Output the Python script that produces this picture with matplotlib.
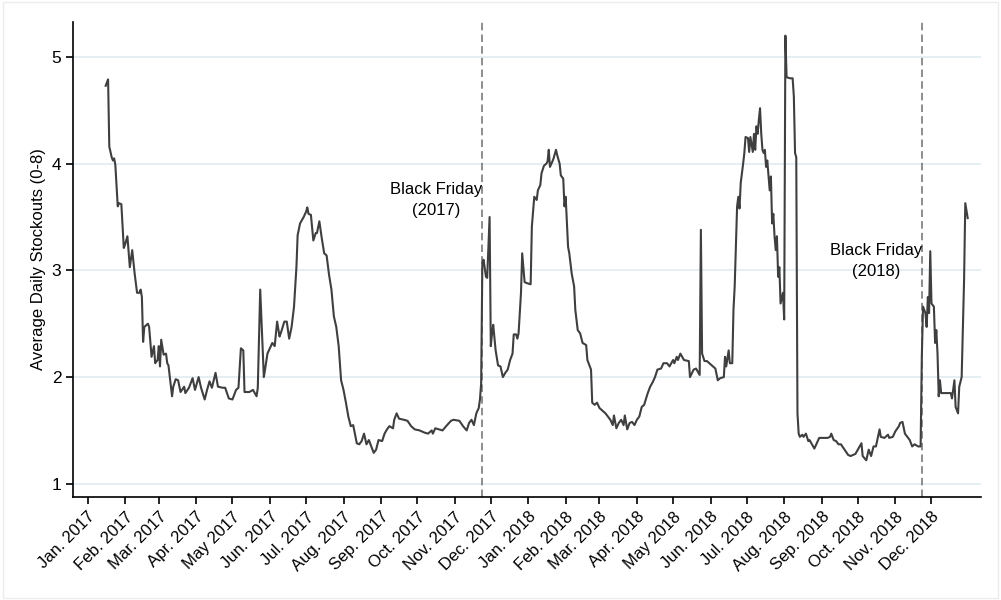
import pandas as pd
import matplotlib.pyplot as plt
import matplotlib.patches as patches

plt.rcParams['font.family'] = ['Liberation Sans', 'DejaVu Sans']

# days since 2017-01-01 and average daily stockouts
days = [15, 17, 18, 20, 21, 22, 23, 25, 26, 28, 30, 31, 33, 35, 37, 39, 41, 43, 44, 45,
        46, 47, 50, 51, 53, 55, 56, 58, 59, 60, 61, 63, 65, 66, 67, 70, 71, 73, 75, 77,
        80, 81, 84, 87, 89, 92, 94, 97, 99, 101, 103, 106, 108, 112, 114, 117, 120, 123, 125, 127,
        129, 130, 134, 137, 140, 141, 143, 146, 147, 149, 153, 155, 157, 159, 160, 163, 165, 167, 169, 171,
        173, 174, 176, 179, 181, 182, 183, 185, 187, 189, 190, 192, 194, 196, 198, 200, 202, 204, 206, 208,
        210, 212, 214, 216, 218, 220, 223, 225, 227, 229, 231, 233, 235, 237, 239, 241, 244, 246, 248, 250,
        253, 254, 256, 258, 262, 265, 268, 271, 275, 279, 282, 285, 286, 288, 291, 294, 297, 301, 303, 308,
        311, 314, 316, 318, 320, 322, 324, 325, 326, 327, 328, 330, 331, 333, 334, 335, 336, 338, 340, 342,
        344, 346, 348, 350, 352, 353, 355, 356, 357, 359, 360, 362, 364, 367, 368, 370, 372, 373, 375, 376,
        378, 380, 381, 382, 383, 385, 386, 388, 389, 391, 392, 394, 395, 396, 398, 399, 401, 403, 404, 406,
        408, 410, 413, 414, 417, 418, 420, 422, 424, 426, 429, 431, 433, 435, 436, 438, 440, 442, 444, 445,
        447, 449, 451, 453, 455, 457, 459, 461, 464, 466, 468, 470, 472, 475, 477, 480, 482, 485, 486, 488,
        489, 491, 493, 494, 498, 499, 502, 504, 507, 508, 509, 511, 513, 515, 518, 520, 522, 524, 527, 528,
        529, 531, 532, 534, 535, 536, 538, 539, 540, 541, 543, 544, 545, 547, 548, 549, 551, 552, 553, 554,
        555, 556, 557, 558, 559, 560, 561, 562, 563, 565, 566, 567, 568, 569, 570, 571, 572, 573, 574, 576,
        577, 578, 579, 582, 584, 585, 586, 587, 588, 589, 590, 592, 593, 595, 597, 598, 600, 602, 604, 606,
        609, 611, 613, 615, 616, 618, 620, 622, 624, 627, 630, 632, 636, 638, 641, 642, 645, 647, 649, 651,
        653, 656, 657, 660, 663, 664, 667, 669, 672, 673, 675, 677, 679, 681, 683, 685, 688, 690, 691, 692,
        694, 695, 696, 697, 698, 699, 701, 702, 703, 704, 705, 706, 707, 711, 715, 716, 718, 719, 721, 722,
        724, 726, 727, 729]
stockouts = [4.73, 4.79, 4.16, 4.06, 4.03, 4.05, 3.99, 3.60, 3.63, 3.62, 3.21, 3.24, 3.32, 3.03, 3.19, 2.97, 2.79, 2.79, 2.82, 2.75,
             2.33, 2.47, 2.50, 2.47, 2.19, 2.29, 2.13, 2.16, 2.29, 2.10, 2.35, 2.21, 2.22, 2.13, 2.11, 1.82, 1.91, 1.98, 1.97, 1.86,
             1.91, 1.85, 1.90, 1.99, 1.88, 2.00, 1.90, 1.79, 1.88, 1.96, 1.90, 2.04, 1.91, 1.90, 1.90, 1.80, 1.79, 1.88, 1.90, 2.27,
             2.25, 1.86, 1.86, 1.88, 1.82, 1.90, 2.82, 2.00, 2.07, 2.22, 2.32, 2.29, 2.52, 2.38, 2.41, 2.52, 2.52, 2.36, 2.47, 2.66,
             3.03, 3.33, 3.44, 3.50, 3.55, 3.59, 3.53, 3.52, 3.28, 3.35, 3.35, 3.46, 3.30, 3.16, 3.14, 2.96, 2.82, 2.57, 2.47, 2.29,
             1.97, 1.88, 1.76, 1.63, 1.54, 1.55, 1.38, 1.37, 1.40, 1.47, 1.37, 1.41, 1.35, 1.29, 1.32, 1.41, 1.40, 1.47, 1.51, 1.54,
             1.52, 1.60, 1.66, 1.61, 1.60, 1.59, 1.54, 1.51, 1.50, 1.48, 1.47, 1.50, 1.47, 1.52, 1.51, 1.50, 1.54, 1.59, 1.60, 1.59,
             1.54, 1.50, 1.57, 1.60, 1.55, 1.66, 1.71, 1.79, 1.94, 3.07, 3.10, 2.94, 2.93, 3.50, 2.29, 2.41, 2.49, 2.25, 2.11, 2.10,
             2.00, 2.04, 2.07, 2.16, 2.22, 2.40, 2.40, 2.36, 2.41, 2.79, 3.16, 2.89, 2.88, 2.87, 3.41, 3.69, 3.66, 3.75, 3.80, 3.91,
             3.98, 4.00, 4.02, 4.13, 3.97, 4.02, 4.05, 4.13, 4.08, 4.00, 3.89, 3.86, 3.60, 3.69, 3.22, 3.16, 2.97, 2.85, 2.63, 2.44,
             2.41, 2.32, 2.30, 2.16, 2.07, 1.76, 1.74, 1.76, 1.71, 1.69, 1.66, 1.63, 1.60, 1.55, 1.64, 1.52, 1.57, 1.60, 1.55, 1.64,
             1.51, 1.57, 1.58, 1.55, 1.60, 1.63, 1.72, 1.74, 1.85, 1.91, 1.95, 2.00, 2.07, 2.08, 2.13, 2.13, 2.10, 2.16, 2.13, 2.19,
             2.16, 2.22, 2.18, 2.16, 2.15, 2.00, 2.07, 2.08, 2.02, 3.38, 2.22, 2.15, 2.15, 2.13, 2.10, 2.08, 1.97, 1.99, 2.00, 2.19,
             2.10, 2.25, 2.13, 2.13, 2.63, 2.85, 3.60, 3.69, 3.58, 3.82, 4.00, 4.10, 4.25, 4.24, 4.11, 4.25, 4.11, 4.28, 4.13, 4.35,
             4.28, 4.41, 4.52, 4.28, 4.13, 4.10, 4.13, 3.97, 4.03, 3.75, 3.88, 3.44, 3.53, 3.32, 3.19, 3.32, 2.94, 3.03, 2.69, 2.79,
             2.54, 5.20, 4.81, 4.80, 4.80, 4.63, 4.10, 4.06, 1.66, 1.47, 1.44, 1.46, 1.44, 1.47, 1.40, 1.41, 1.37, 1.33, 1.38, 1.43,
             1.43, 1.43, 1.43, 1.44, 1.47, 1.41, 1.40, 1.37, 1.37, 1.32, 1.27, 1.26, 1.28, 1.32, 1.38, 1.26, 1.22, 1.32, 1.26, 1.35,
             1.35, 1.51, 1.44, 1.43, 1.46, 1.43, 1.44, 1.49, 1.54, 1.57, 1.58, 1.47, 1.44, 1.41, 1.35, 1.37, 1.35, 1.35, 2.19, 2.66,
             2.60, 2.47, 2.75, 2.60, 3.18, 2.69, 2.66, 2.32, 2.44, 2.22, 1.82, 1.97, 1.85, 1.85, 1.85, 1.80, 1.97, 1.72, 1.66, 1.91,
             2.00, 2.91, 3.63, 3.49]

black_fridays = ['2017-11-24', '2018-11-23']
bf_labels = ['Black Friday\n(2017)', 'Black Friday\n(2018)']
bf_label_y = [3.66, 3.09]

tick_months = pd.date_range('2017-01-01', '2018-12-01', freq='MS')
tick_labels = ['Jan. 2017', 'Feb. 2017', 'Mar. 2017', 'Apr. 2017', 'May 2017', 'Jun. 2017',
               'Jul. 2017', 'Aug. 2017', 'Sep. 2017', 'Oct. 2017', 'Nov. 2017', 'Dec. 2017',
               'Jan. 2018', 'Feb. 2018', 'Mar. 2018', 'Apr. 2018', 'May 2018', 'Jun. 2018',
               'Jul. 2018', 'Aug. 2018', 'Sep. 2018', 'Oct. 2018', 'Nov. 2018', 'Dec. 2018']

dates = pd.Timestamp('2017-01-01') + pd.to_timedelta(days, unit='D')

fig = plt.figure(figsize=(10.01, 6.0), dpi=100)
ax = fig.add_axes([0.073, 0.172, 0.907, 0.791])

# light gray frame round the figure
fig.patches.append(patches.Rectangle((0.003, 0.004), 0.994, 0.992, transform=fig.transFigure,
                                     fill=False, edgecolor='#ececec', linewidth=1))

for y in [1, 2, 3, 4, 5]:
    ax.axhline(y, color='#e3eef0', linewidth=1.3, zorder=0)

ax.plot(dates, stockouts, color='#3f3f3f', linewidth=1.5, zorder=3)

for d, lab, ly in zip(black_fridays, bf_labels, bf_label_y):
    ax.axvline(pd.Timestamp(d), color='#7a7a7a', linestyle=(0, (4.5, 2.5)), linewidth=1.2, zorder=2)
    ax.text(pd.Timestamp(d), ly, lab, ha='right', va='center', multialignment='center',
            fontsize=12, linespacing=1.5, zorder=4)

ax.set_xlim(pd.Timestamp('2016-12-20'), pd.Timestamp('2019-01-11'))
ax.set_ylim(0.878, 5.326)
ax.set_yticks([1, 2, 3, 4, 5])
ax.set_yticklabels(['1', '2', '3', '4', '5'], fontsize=12.5)
ax.set_xticks(tick_months)
ax.set_xticklabels(tick_labels, rotation=45, ha='right', rotation_mode='anchor', fontsize=12)
ax.set_ylabel('Average Daily Stockouts (0-8)', fontsize=12)

for s in ['top', 'right']:
    ax.spines[s].set_visible(False)
ax.spines['left'].set_linewidth(1.2)
ax.spines['bottom'].set_linewidth(1.2)
ax.tick_params(axis='both', direction='out', length=5, width=1.2)
ax.tick_params(axis='x', pad=4)

plt.savefig('out.png', dpi=100)
